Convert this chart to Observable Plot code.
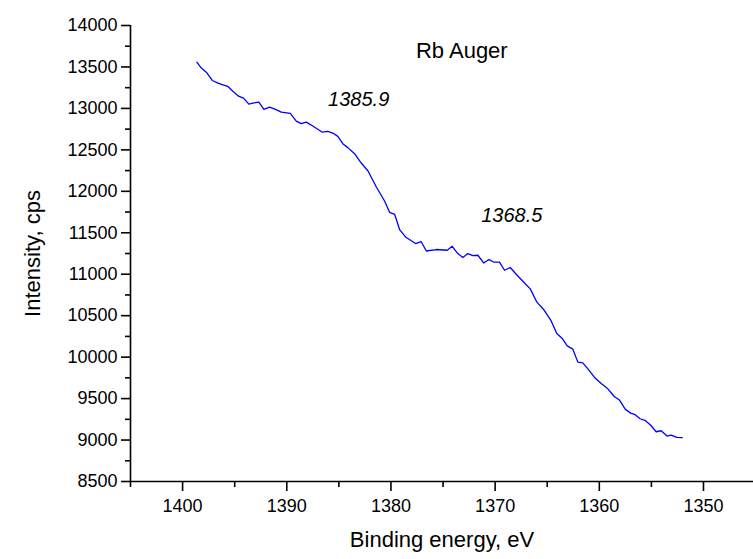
<!DOCTYPE html>
<html>
<head>
<meta charset="utf-8">
<script src="https://cdn.jsdelivr.net/npm/d3@7"></script>
<script src="https://cdn.jsdelivr.net/npm/@observablehq/plot@0.6"></script>
<style>
  html, body { margin: 0; padding: 0; background: #fff; }
  #chart { width: 753px; height: 559px; overflow: hidden; }
</style>
</head>
<body>
<div id="chart"></div>
<script>
const energy = [
  1398.63, 1398.2, 1397.67, 1397.15, 1396.6, 1396.13, 1395.65, 1395.17, 1394.63, 1394.15,
  1393.64, 1393.25, 1392.68, 1392.2, 1391.65, 1391.08, 1390.53, 1389.66, 1389.09, 1388.6,
  1388.13, 1387.5, 1386.63, 1386.06, 1385.58, 1385.1, 1384.62, 1384.14, 1383.49, 1382.85,
  1382.2, 1381.4, 1380.6, 1380.13, 1379.65, 1379.17, 1378.6, 1377.64, 1377.1, 1376.6,
  1375.65, 1374.6, 1374.12, 1373.58, 1373.1, 1372.62, 1372.14, 1371.66, 1371.1, 1370.6,
  1370.1, 1369.58, 1369.1, 1368.55, 1367.98, 1367.27, 1366.63, 1365.99, 1365.35, 1364.62,
  1364.08, 1363.56, 1363.08, 1362.54, 1362.06, 1361.58, 1361.0, 1360.46, 1359.82, 1359.18,
  1358.54, 1358.06, 1357.5, 1356.95, 1356.62, 1356.08, 1355.57, 1355.09, 1354.54, 1354.06,
  1353.5, 1353.1, 1352.56, 1352.04
];
const intensity = [
  13558, 13486, 13430, 13337, 13305, 13285, 13265, 13208, 13148, 13124,
  13052, 13064, 13076, 12988, 13016, 12988, 12955, 12940, 12847, 12816,
  12835, 12787, 12715, 12723, 12703, 12663, 12575, 12527, 12454, 12341,
  12245, 12052, 11880, 11747, 11723, 11539, 11450, 11370, 11392, 11280,
  11298, 11289, 11337, 11249, 11201, 11249, 11225, 11229, 11136, 11177,
  11145, 11145, 11048, 11081, 11000, 10907, 10823, 10663, 10575, 10437,
  10285, 10225, 10136, 10096, 9940, 9931, 9843, 9755, 9683, 9618,
  9522, 9482, 9370, 9322, 9310, 9257, 9233, 9181, 9100, 9112,
  9048, 9060, 9032, 9028
];
const xMajorTicks = [1400, 1390, 1380, 1370, 1360, 1350];
const xMinorTicks = [1405, 1395, 1385, 1375, 1365, 1355];
const yMajorTicks = [8500, 9000, 9500, 10000, 10500, 11000, 11500, 12000, 12500, 13000, 13500, 14000];
const yMinorTicks = [8750, 9250, 9750, 10250, 10750, 11250, 11750, 12250, 12750, 13250, 13750];
const annotations = [
  {e: 1377.6, v: 13699, label: "Rb Auger", italic: false},
  {e: 1383.1, v: 13108, label: "1385.9", italic: true},
  {e: 1368.4, v: 11711, label: "1368.5", italic: true}
];
const xTitle = "Binding energy, eV";
const yTitle = "Intensity, cps";

const data = energy.map((e, i) => ({e, v: intensity[i]}));
const fmt = d3.format("d");

const chart = Plot.plot({
  width: 753,
  height: 559,
  marginLeft: 130,
  marginRight: 0,
  marginTop: 25,
  marginBottom: 78,
  style: {fontFamily: "'Liberation Sans', Arial, sans-serif", fontSize: "18px", background: "#fff", color: "#000"},
  x: {domain: [1405, 1345.2], label: null},
  y: {domain: [8500, 14000], label: null},
  marks: [
    Plot.axisX(xMajorTicks, {tickSize: 10, tickPadding: 8, strokeWidth: 1.6, fontSize: 18, tickFormat: fmt, label: null}),
    Plot.axisX(xMinorTicks, {tickSize: 6, text: null, strokeWidth: 1.6, label: null}),
    Plot.axisY(yMajorTicks, {tickSize: 9, tickPadding: 4, strokeWidth: 1.6, fontSize: 18, tickFormat: fmt, label: null}),
    Plot.axisY(yMinorTicks, {tickSize: 5, text: null, strokeWidth: 1.6, label: null}),
    Plot.ruleY([8500], {strokeWidth: 1.6}),
    Plot.ruleX([1405], {strokeWidth: 1.6}),
    Plot.line(data, {x: "e", y: "v", stroke: "#0000ff", strokeWidth: 1.3}),
    Plot.text(annotations.filter(d => !d.italic), {x: "e", y: "v", text: "label", textAnchor: "start", fontSize: 22}),
    Plot.text(annotations.filter(d => d.italic), {x: "e", y: "v", text: "label", textAnchor: "middle", fontSize: 20, fontStyle: "italic"}),
    Plot.text([xTitle], {frameAnchor: "bottom", textAnchor: "middle", lineAnchor: "middle", dy: 58, fontSize: 22}),
    Plot.text([yTitle], {frameAnchor: "left", textAnchor: "middle", lineAnchor: "middle", dx: -98, rotate: -90, fontSize: 22})
  ]
});
document.getElementById("chart").appendChild(chart);
</script>
</body>
</html>
